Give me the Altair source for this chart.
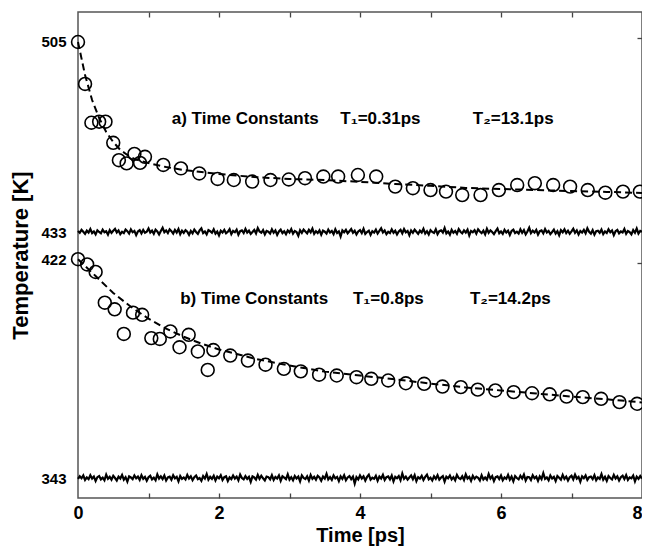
import altair as alt
import pandas as pd

# ---------------- data ----------------
# panel a) measured temperatures (time in ps, temperature in K)
a_time = [0.00, 0.10, 0.19, 0.30, 0.39, 0.50, 0.58, 0.69, 0.80, 0.88, 0.95,
          1.21, 1.46, 1.72, 1.98, 2.21, 2.47, 2.73, 2.99, 3.22, 3.48, 3.69,
          3.97, 4.23, 4.50, 4.75, 5.00, 5.22, 5.45, 5.71, 5.97, 6.23, 6.48,
          6.74, 6.98, 7.23, 7.48, 7.73, 7.97]
a_temp = [505.0, 489.1, 474.4, 474.8, 474.8, 466.8, 460.2, 459.0, 462.6, 459.2, 461.5,
          458.4, 457.1, 455.2, 453.1, 452.7, 452.1, 452.7, 452.9, 453.4, 454.0, 454.0,
          454.6, 454.0, 450.2, 449.6, 448.9, 448.3, 447.0, 447.0, 448.9, 450.8, 451.5,
          450.8, 450.2, 448.9, 447.9, 448.3, 448.3]

# panel b) measured temperatures
b_time = [0.00, 0.13, 0.25, 0.38, 0.52, 0.65, 0.78, 0.91, 1.04, 1.16, 1.31,
          1.44, 1.57, 1.70, 1.84, 1.92, 2.16, 2.41, 2.66, 2.92, 3.16, 3.42,
          3.67, 3.95, 4.16, 4.40, 4.65, 4.91, 5.17, 5.43, 5.67, 5.92, 6.18,
          6.44, 6.69, 6.93, 7.16, 7.42, 7.68, 7.93]
b_temp = [422.0, 420.1, 417.4, 406.3, 403.9, 395.0, 402.7, 401.9, 393.5, 393.2, 395.9,
          390.2, 394.7, 388.7, 382.0, 389.2, 387.2, 385.4, 383.9, 382.4, 381.5, 380.3,
          380.0, 379.4, 378.8, 378.2, 377.2, 377.0, 376.0, 375.8, 374.9, 374.6, 374.0,
          373.6, 373.2, 372.4, 372.2, 371.6, 370.4, 369.8]

# fitted curves (dashed)
fit_a_time = [0, 0.1, 0.2, 0.3, 0.4, 0.5, 0.6, 0.7, 0.8, 1.0, 1.25, 1.5, 2, 2.5,
              3, 3.5, 4, 4.5, 5, 5.5, 6, 6.5, 7, 7.5, 8]
fit_a_temp = [505.0, 492.5, 483.0, 476.2, 470.9, 467.1, 464.1, 462.2, 460.7, 459.1,
              457.6, 456.5, 455.0, 453.8, 453.1, 452.7, 452.0, 451.2, 450.5, 449.7,
              449.3, 448.9, 448.5, 448.2, 447.8]
fit_b_time = [0, 0.25, 0.5, 0.75, 1, 1.25, 1.5, 1.75, 2, 2.5, 3, 3.5, 4, 4.5, 5,
              5.5, 6, 6.5, 7, 7.5, 8]
fit_b_temp = [422.0, 415.9, 409.8, 404.8, 400.5, 396.9, 394.0, 391.5, 389.4, 386.1,
              383.6, 381.4, 380.0, 378.6, 377.1, 375.7, 374.6, 373.5, 372.4, 371.4,
              370.3]

# residual traces (deviation in K around their baseline levels), sampled evenly 0..8 ps
resid_a_level = 433
resid_a = [
    0.4, -0.3, 0.8, 0.1, -0.7, 0.5, -0.2, 1.1, -0.4, 0.2, -0.9, 0.6, 0.0, -0.5, 0.9, -0.1, 0.3, -1.0, 0.7, -0.3,
    0.5, 1.2, -0.2, 0.6, -0.8, 0.1, -0.4, 0.9, 0.3, -0.6, 1.0, -0.1, 0.4, -1.2, 0.2, 0.7, -0.5, 0.8, -0.3, 0.1,
    1.3, -0.2, 0.5, -0.7, 0.9, 0.2, -0.9, 0.4, 1.6, -0.1, 0.6, -0.4, 1.0, 0.3, -0.6, 0.8, -0.2, 1.1, -0.8, 0.5,
    -0.3, 0.7, 0.1, -1.1, 0.4, -0.5, 0.9, 0.0, -0.7, 0.6, 1.4, -0.4, 0.2, -0.9, 0.7, 0.3, -0.3, 1.0, -0.6, 0.2,
    -1.3, 0.5, -0.2, 0.8, -0.5, 0.1, 1.1, -0.8, 0.4, -0.1, 0.9, -1.0, 0.3, 0.6, -0.4, 1.2, -0.2, 0.5, -0.7, 0.0,
    0.8, -0.5, 1.5, 0.2, -0.3, 0.7, -0.9, 0.4, 0.1, -0.6, 1.0, -0.3, 0.6, -1.1, 0.2, 0.9, -0.4, 0.3, -0.8, 0.6,
    -0.2, 1.1, -0.6, 0.4, 0.0, -1.4, 0.7, -0.3, 0.9, 0.2, -0.5, 0.8, -0.1, 1.3, -0.7, 0.3, -0.4, 0.6, -1.0, 0.5,
    0.1, -0.6, 0.9, -0.2, 0.4, -0.8, 1.0, -0.4, 0.2, -1.7, 0.6, -0.1, 0.8, -0.5, 0.3, 1.1, -0.3, 0.5, -0.9, 0.2,
    0.7, -0.4, 1.2, -0.7, 0.0, 0.5, -1.1, 0.3, -0.2, 0.9, -0.6, 0.4, 1.4, -0.2, 0.6, -0.8, 0.1, -0.4, 1.0, -0.3,
    0.5, -0.9, 0.2, 0.8, -0.5, 1.1, -0.1, 0.4, -1.2, 0.6, -0.3, 0.9, 0.1, -0.7, 0.5, -0.2, 1.2, -0.6, 0.3, -0.9,
    0.7, 0.0, -0.4, 1.0, -0.8, 0.3, 0.6, -0.2, 1.5, -0.5, 0.2, -1.0, 0.8, -0.3, 0.4, -0.7, 1.1, 0.1, -0.5, 0.6,
    -0.2, 0.9, -1.3, 0.4, -0.1, 0.7, -0.6, 1.0, 0.2, -0.4, 0.5, -0.9, 1.2, -0.3, 0.6, 0.0, -0.8, 0.3, 1.3, -0.5,
    0.2, -0.7, 0.8, -0.2, 0.5, -1.1, 0.4, 0.9, -0.4, 0.1, -0.6, 1.0, -0.3, 0.7, -0.9, 0.2, 1.6, -0.4, 0.5, -0.2,
    0.8, -1.0, 0.3, 0.6, -0.5, 1.1, -0.2, 0.4, -0.8, 0.0, 0.9, -0.6, 0.3, -1.2, 0.7, -0.1, 1.0, -0.4, 0.5, -0.7,
    0.2, 1.2, -0.3, 0.6, -0.9, 0.4, -0.2, 0.8, -0.5, 1.4, 0.1, -0.6, 0.7, -1.0, 0.3, 0.5, -0.3, 0.9, -0.8, 0.2,
    -0.4, 1.0, -0.1, 0.6, -1.2, 0.3, 0.8, -0.5, 0.2, -0.2, 1.1, -0.7, 0.4, 0.0, -0.9, 0.7, -0.3, 1.3, -0.6, 0.4,
    0.1]
resid_b_level = 343
resid_b = [
    -0.3, 0.6, -0.1, 0.9, -0.7, 0.2, -0.4, 1.0, -0.2, 0.5, -1.1, 0.3, 0.7, -0.5, 0.1, -0.8, 1.2, -0.3, 0.4, -0.6,
    0.8, 0.0, -0.9, 0.5, -0.2, 1.1, -0.6, 0.3, -1.3, 0.6, 0.2, -0.4, 0.9, -0.1, 0.5, -0.7, 1.0, -0.3, 0.4, -1.0,
    0.3, 0.8, -0.5, 0.1, -0.8, 1.3, -0.2, 0.6, -0.4, 0.9, -0.9, 0.2, 0.5, -0.6, 1.0, -0.1, 0.4, -1.2, 0.7, -0.3,
    0.2, -0.5, 1.1, -0.2, 0.6, -0.8, 0.3, 0.9, -0.4, 0.0, -1.0, 0.7, -0.2, 1.4, -0.6, 0.4, -0.3, 0.8, -0.9, 0.5,
    -0.1, 1.0, -0.7, 0.3, 0.6, -1.1, 0.2, -0.4, 0.9, -0.2, 0.5, -0.8, 1.2, 0.0, -0.5, 0.7, -0.3, 0.4, -1.4, 0.6,
    0.2, -0.6, 1.1, -0.3, 0.8, -0.1, -0.9, 0.5, 0.3, -0.5, 1.0, -0.7, 0.4, -0.2, 0.9, -1.0, 0.6, 0.1, -0.4, 1.3,
    -0.6, 0.3, -0.8, 0.7, -0.2, 0.5, -1.2, 0.9, 0.0, -0.4, 0.6, -0.9, 1.1, -0.3, 0.4, -0.6, 0.8, 0.2, -1.0, 0.5,
    -0.2, 1.5, -0.5, 0.3, -0.7, 0.9, -0.1, 0.4, -1.1, 0.6, -0.3, 1.0, -0.8, 0.2, 0.7, -0.4, 0.5, -2.0, 0.3, -0.5,
    0.9, -0.2, 0.6, -0.9, 0.4, 1.2, -0.6, 0.1, -0.3, 0.8, -1.0, 0.5, -0.2, 1.1, -0.7, 0.3, 0.6, -0.5, 0.9, -1.2,
    0.4, -0.1, 0.7, -0.8, 1.6, -0.3, 0.5, -0.6, 0.2, 0.9, -0.4, 1.0, -1.1, 0.3, -0.2, 0.8, -0.7, 0.4, 1.2, -0.5,
    0.1, -0.9, 0.6, -0.3, 1.0, -0.6, 0.2, 0.7, -1.3, 0.5, -0.1, 0.9, -0.5, 0.3, -0.8, 1.1, 0.0, -0.4, 0.6, -0.7,
    1.3, -0.2, 0.4, -1.0, 0.8, -0.3, 0.5, 0.1, -0.9, 1.0, -0.5, 0.2, -0.6, 1.4, -0.2, 0.7, -1.1, 0.3, 0.6, -0.4,
    0.9, -0.8, 0.2, -0.3, 1.1, -0.6, 0.5, -1.2, 0.7, 0.0, -0.5, 0.8, -0.2, 1.2, -0.9, 0.4, 0.3, -0.7, 1.0, -0.1,
    0.5, -1.0, 0.6, -0.4, 1.7, -0.3, 0.2, -0.8, 0.9, -0.2, 0.4, -1.1, 0.7, 0.1, -0.6, 1.1, -0.3, 0.5, -0.9, 0.3,
    0.8, -0.5, 1.2, -0.2, 0.4, -1.3, 0.6, -0.1, 0.9, -0.7, 0.3, 0.5, -0.4, 1.0, -0.8, 0.2, -0.3, 1.4, -0.6, 0.4,
    -1.0, 0.7, 0.0, -0.5, 1.1, -0.2, 0.6, -0.9, 0.3, 0.8, -0.4, 1.0, -0.7, 0.2, -0.1, 0.9, -1.2, 0.5, -0.3, 0.7,
    -0.2]

# axis labels on the temperature axis and the panel annotations
y_label_temps = [("a", 505), ("a", 433), ("b", 422), ("b", 343)]
note_panel = ["a", "a", "a", "b", "b", "b"]
note_text = ["a) Time Constants", "T\u2081=0.31ps", "T\u2082=13.1ps",
             "b) Time Constants", "T\u2081=0.8ps", "T\u2082=14.2ps"]
note_time = [1.33, 3.72, 5.60, 1.45, 3.90, 5.56]
note_temp = [475.8, 475.8, 475.8, 407.6, 407.6, 407.6]

# ---------------- offset stacking of the two panels ----------------
A_REF, A_POS, A_K = 433, 266, 2.639
B_REF, B_POS, B_K = 343, 20, 2.77
POS_EXPR = (f"datum.panel == 'a' ? {A_POS} + (datum.T - {A_REF}) * {A_K}"
            f" : {B_POS} + (datum.T - {B_REF}) * {B_K}")


def to_pos(panel, T):
    return A_POS + (T - A_REF) * A_K if panel == "a" else B_POS + (T - B_REF) * B_K


points = pd.DataFrame({"t": a_time + b_time, "T": a_temp + b_temp,
                       "panel": ["a"] * len(a_time) + ["b"] * len(b_time)})
fits = pd.DataFrame({"t": fit_a_time + fit_b_time, "T": fit_a_temp + fit_b_temp,
                     "panel": ["a"] * len(fit_a_time) + ["b"] * len(fit_b_time)})


def resid_frame(dev, level, panel):
    n = len(dev)
    return pd.DataFrame({"t": [8 * i / (n - 1) for i in range(n)],
                         "T": [level + d for d in dev], "panel": panel})


noise = pd.concat([resid_frame(resid_a, resid_a_level, "a"),
                   resid_frame(resid_b, resid_b_level, "b")], ignore_index=True)
notes = pd.DataFrame({"t": note_time, "T": note_temp, "panel": note_panel,
                      "label": note_text})

label_pos = [round(to_pos(p, T), 2) for p, T in y_label_temps]
label_expr = " : ".join(
    f"abs(datum.value - {v}) < 1 ? '{T}'" for v, (p, T) in zip(label_pos, y_label_temps)
) + " : ''"

FONT = "Liberation Sans"
W, H = 564, 486
xs = alt.Scale(domain=[0, 8], nice=False, zero=False)
ys = alt.Scale(domain=[0, H], nice=False, zero=False)

x_main = alt.Axis(orient="bottom", values=[0, 2, 4, 6, 8], format="d", ticks=False,
                  tickSize=0, domain=False, grid=False, labelFlush=False,
                  labelAlign={"condition": {"test": "datum.value >= 8", "value": "right"},
                              "value": "center"},
                  labelFont=FONT, labelFontSize=18, labelFontWeight="bold",
                  labelColor="black", labelPadding=6,
                  title="Time [ps]", titleFont=FONT, titleFontSize=20,
                  titleFontWeight="bold", titleColor="black", titlePadding=3)
y_main = alt.Axis(orient="left", values=label_pos, labelExpr=label_expr, ticks=False,
                  tickSize=0, domain=False, grid=False,
                  labelFont=FONT, labelFontSize=15, labelFontWeight="bold",
                  labelColor="black", labelPadding=12, labelBaseline="middle",
                  title="Temperature [K]", titleFont=FONT, titleFontSize=22,
                  titleFontWeight="bold", titleColor="black", titlePadding=8)
tick_style = dict(labels=False, domain=False, grid=False, tickColor="#444",
                  tickWidth=1.3, tickSize=5, title=None)
x_top_ticks = alt.Axis(orient="bottom", offset=-H, values=list(range(1, 8)), **tick_style)
x_bottom_ticks = alt.Axis(orient="top", offset=-H, values=list(range(1, 8)), **tick_style)
y_right_ticks = alt.Axis(orient="left", offset=-W, values=[460, 235], **tick_style)

circles = alt.Chart(points).transform_calculate(pos=POS_EXPR).mark_point(
    shape="circle", filled=False, size=165, stroke="black", strokeWidth=1.6,
    opacity=1
).encode(
    x=alt.X("t:Q", scale=xs, axis=x_main),
    y=alt.Y("pos:Q", scale=ys, axis=y_main),
)

fit_lines = alt.Chart(fits).transform_calculate(pos=POS_EXPR).mark_line(
    color="black", strokeWidth=2, strokeDash=[7, 4]
).encode(
    x=alt.X("t:Q", scale=xs, axis=x_top_ticks),
    y=alt.Y("pos:Q", scale=ys, axis=y_right_ticks),
    detail="panel:N",
)

resid_lines = alt.Chart(noise).transform_calculate(pos=POS_EXPR).mark_line(
    color="black", strokeWidth=2.2
).encode(
    x=alt.X("t:Q", scale=xs, axis=x_bottom_ticks),
    y=alt.Y("pos:Q", scale=ys, axis=None),
    detail="panel:N",
)

texts = alt.Chart(notes).transform_calculate(pos=POS_EXPR).mark_text(
    align="left", baseline="middle", font=FONT, fontSize=17, fontWeight="bold",
    color="black"
).encode(
    x=alt.X("t:Q", scale=xs, axis=None),
    y=alt.Y("pos:Q", scale=ys, axis=None),
    text="label:N",
)

chart = alt.layer(circles, fit_lines, resid_lines, texts).resolve_axis(
    x="independent", y="independent"
).properties(
    width=W, height=H, autosize="none",
    padding={"left": 70, "top": 4, "right": 0, "bottom": 48},
    background="white",
).configure_view(stroke="#555", strokeWidth=1.5)

chart.save("out.html", embed_options={"renderer": "svg", "actions": False})
